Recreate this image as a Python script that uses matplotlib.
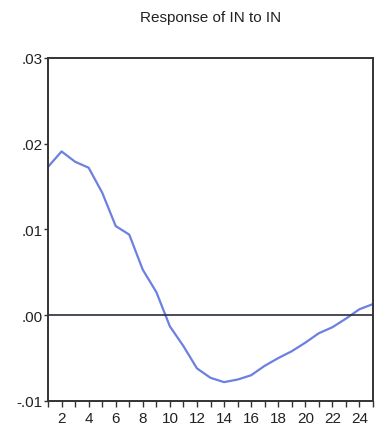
import matplotlib
matplotlib.use("Agg")
import matplotlib.pyplot as plt
import numpy as np
from matplotlib.ticker import FixedLocator, FuncFormatter

# impulse response of IN to a shock in IN, by period
periods = list(range(1, 26))
response = [0.0173, 0.0191, 0.0179, 0.0172, 0.0143, 0.0104, 0.0094, 0.0053,
            0.0027, -0.0013, -0.0036, -0.0062, -0.0073, -0.0078, -0.0075,
            -0.0070, -0.0059, -0.0050, -0.0042, -0.0032, -0.0021, -0.0014,
            -0.0004, 0.0007, 0.0013]
yticks = [-0.01, 0.00, 0.01, 0.02, 0.03]
xlabels = list(range(2, 25, 2))

plt.rcParams["font.family"] = ["Liberation Sans Narrow", "Liberation Sans", "DejaVu Sans"]

fig = plt.figure(figsize=(3.82, 4.35), dpi=100)
ax = fig.add_axes([0.1257, 0.0759, 0.8507, 0.7885])

ax.plot(periods, response, color="#6b80e0", lw=1.6)
ax.axhline(0, color="#2a2d3a", lw=1.2)

ax.set_xlim(1, 25)
ax.set_ylim(-0.01, 0.03)

ax.xaxis.set_major_locator(FixedLocator(xlabels))
ax.xaxis.set_minor_locator(FixedLocator(range(1, 26, 2)))
ax.set_yticks(yticks)
ax.yaxis.set_major_formatter(FuncFormatter(
    lambda v, _: ("-" if v < -1e-9 else "") + f"{abs(v):.2f}".lstrip("0")))

ax.tick_params(axis="both", which="both", direction="out", color="#333333",
               labelsize=11, labelcolor="#222222")
ax.tick_params(axis="x", which="major", length=4, width=1, pad=3)
ax.tick_params(axis="x", which="minor", length=4, width=1)
ax.tick_params(axis="y", length=3, width=1, pad=1)

for s in ax.spines.values():
    s.set_color("#333333")
    s.set_linewidth(1.4)

fig.text(0.551, 0.958, "Response of IN to IN", ha="center", va="center",
         fontsize=11, color="#222222")

fig.savefig("out.png", dpi=100)
